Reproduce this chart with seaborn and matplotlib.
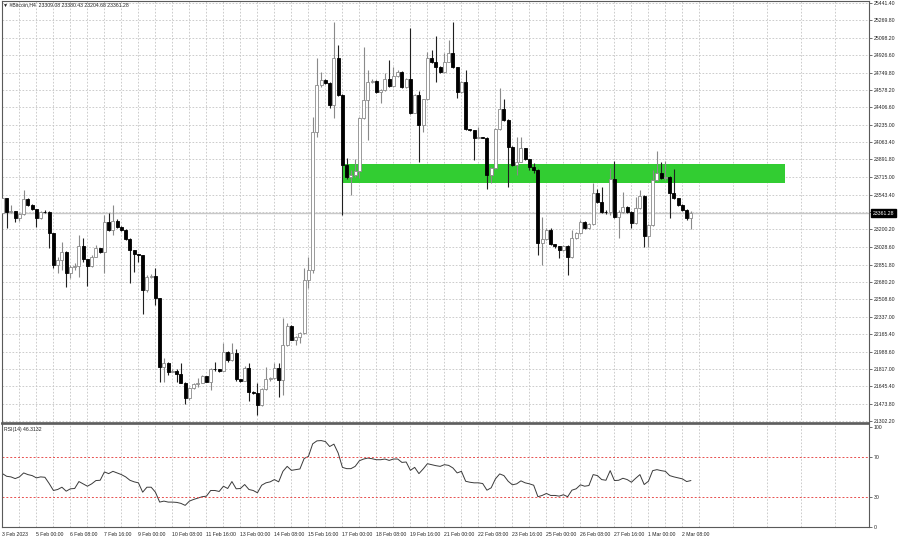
import numpy as np
import pandas as pd
import matplotlib
matplotlib.use("Agg")
import matplotlib.pyplot as plt
import matplotlib.transforms as mtransforms
import seaborn as sns

# H4 candles, 3 Feb 16:00 .. 2 Mar 16:00 (open = previous close)
first_open = 23359.0
close = [23508, 23376, 23380, 23310, 23350, 23498, 23442, 23399, 23310, 23376,
         23372, 23161, 22848, 22897, 22980, 22772, 22831, 22840, 23036, 22904,
         22841, 22930, 23013, 22980, 23277, 23194, 23286, 23227, 23194, 23102,
         22996, 22956, 22943, 22600, 22732, 22735, 22518, 21841, 21881, 21792,
         21800, 21765, 21683, 21528, 21627, 21669, 21680, 21749, 21693, 21818,
         21815, 21800, 21990, 21907, 21980, 21716, 21702, 21831, 21594, 21577,
         21462, 21620, 21716, 21725, 21825, 21709, 22056, 22244, 22105, 22138,
         22171, 22699, 22798, 24168, 24630, 24679, 24653, 24432, 24894, 24531,
         23838, 23722, 23738, 23781, 24300, 24481, 24663, 24670, 24564, 24575,
         24686, 24620, 24719, 24762, 24613, 24686, 24356, 24531, 24234, 24488,
         24894, 24861, 24811, 24762, 24861, 24950, 24804, 24564, 24663, 24191,
         24184, 24102, 24111, 24108, 23738, 23805, 24191, 24389, 24283, 24019,
         23838, 23871, 24003, 23894, 23821, 23790, 23062, 23102, 23194, 23055,
         23036, 22996, 23036, 22930, 23112, 23161, 23277, 23210, 23253, 23557,
         23475, 23376, 23370, 23696, 23326, 23376, 23425, 23376, 23267, 23409,
         23531, 23135, 23244, 23689, 23755, 23706, 23720, 23557, 23508, 23442,
         23392, 23309.08, 23361.28]
high = [23706, 23515, 23442, 23385, 23360, 23590, 23510, 23450, 23405, 23385,
        23395, 23380, 23165, 22923, 23079, 22985, 22850, 22870, 23145, 23112,
        22910, 22945, 23046, 23020, 23343, 23359, 23442, 23300, 23230, 23200,
        23110, 23000, 22960, 22945, 22745, 22755, 22815, 22525, 21924, 21890,
        21815, 21815, 21881, 21690, 21635, 21680, 21726, 21760, 21750, 21825,
        21891, 21820, 22079, 22000, 22079, 22013, 21720, 21845, 21874, 21600,
        21676, 21630, 21834, 21735, 21874, 21880, 22320, 22270, 22250, 22145,
        22180, 22815, 22930, 24316, 24894, 24762, 24690, 24660, 25257, 25025,
        24540, 23904, 23788, 23894, 24310, 25009, 24778, 24690, 24680, 24590,
        24745, 24877, 24811, 24780, 24770, 24700, 25190, 24540, 24570, 24495,
        24956, 24976, 25115, 24815, 24943, 25075, 25257, 24810, 24670, 24778,
        24195, 24185, 24217, 24115, 24115, 23815, 24200, 24597, 24491, 24290,
        24025, 24118, 24118, 24010, 23900, 23854, 23800, 23326, 23210, 23210,
        23060, 23040, 23045, 23045, 23194, 23170, 23290, 23280, 23265, 23660,
        23600, 23623, 23390, 23805, 23880, 23390, 23570, 23430, 23385, 23524,
        23590, 23540, 23250, 23788, 23976, 23870, 23880, 23730, 23795, 23515,
        23450, 23400, 23380.43]
low = [23227, 23211, 23359, 23277, 23280, 23340, 23430, 23390, 23227, 23300,
       23360, 23013, 22815, 22765, 22798, 22633, 22716, 22800, 22732, 22880,
       22640, 22830, 22925, 22965, 22765, 23180, 23145, 23215, 23185, 23090,
       22673, 22782, 22881, 22359, 22580, 22720, 22452, 21693, 21693, 21759,
       21790, 21693, 21675, 21471, 21515, 21620, 21643, 21675, 21685, 21610,
       21800, 21790, 21795, 21890, 21900, 21700, 21690, 21695, 21505, 21570,
       21363, 21452, 21610, 21700, 21720, 21538, 21565, 22050, 22100, 22056,
       22072, 22160, 22617, 22765, 24118, 24613, 24640, 24399, 24300, 24520,
       23343, 23700, 23541, 23722, 23705, 24290, 24085, 24650, 24555, 24448,
       24570, 24610, 24610, 24712, 24600, 24597, 24340, 24350, 23871, 24168,
       24480, 24850, 24663, 24750, 24750, 24855, 24795, 24498, 24555, 24180,
       24175, 23887, 24100, 24100, 23597, 23656, 23795, 24180, 24275, 23623,
       23830, 23738, 23865, 23885, 23788, 23760, 22947, 22848, 23095, 23045,
       23020, 22914, 22990, 22749, 22920, 23105, 23150, 23200, 23200, 23240,
       23460, 23360, 23350, 23345, 23310, 23112, 23360, 23365, 23210, 23250,
       23400, 23029, 23029, 23230, 23680, 23700, 23690, 23310, 23500, 23430,
       23380, 23290, 23204.68]
rsi = [53.3, 50.6, 50.0, 48.3, 50.0, 54.0, 52.3, 51.3, 49.0, 50.0,
       49.6, 43.3, 36.3, 37.3, 39.6, 35.6, 38.0, 38.3, 45.3, 43.0,
       40.6, 43.0, 46.3, 46.6, 55.0, 53.3, 55.6, 54.0, 52.3, 50.0,
       46.6, 45.0, 44.0, 34.6, 39.6, 39.6, 34.6, 24.6, 25.6, 24.6,
       24.6, 24.3, 23.3, 21.3, 25.6, 27.3, 28.6, 30.0, 30.6, 36.3,
       36.3, 35.3, 40.6, 38.3, 45.3, 38.0, 38.3, 42.3, 37.3, 36.3,
       34.0, 41.6, 44.0, 45.0, 47.3, 45.0, 55.6, 60.6, 56.6, 57.3,
       58.0, 68.6, 70.6, 83.3, 86.3, 86.6, 85.6, 80.6, 83.0, 74.0,
       59.6, 58.3, 58.3, 60.6, 66.3, 68.0, 69.0, 68.3, 67.3, 67.3,
       68.0, 66.6, 68.0, 68.0, 64.6, 65.0, 56.6, 59.6, 53.3, 58.0,
       63.3, 62.3, 61.3, 60.6, 62.3, 61.6, 59.0, 54.0, 55.6, 45.6,
       44.6, 44.0, 44.0, 43.3, 36.6, 39.0, 48.0, 53.0, 51.3, 45.6,
       42.0, 43.0, 46.0, 44.0, 43.0, 41.6, 30.0, 31.3, 33.3, 31.3,
       31.3, 30.6, 32.0, 30.0, 36.6, 38.0, 42.0, 40.6, 41.3, 52.3,
       51.3, 47.3, 46.6, 56.3, 46.3, 46.6, 48.6, 47.3, 44.6, 48.6,
       52.3, 42.3, 45.6, 56.3, 57.3, 56.3, 55.6, 51.3, 50.0, 49.0,
       48.0, 45.3, 46.31]

date_labels = ["3 Feb 2023", "5 Feb 00:00", "6 Feb 08:00", "7 Feb 16:00", "9 Feb 00:00",
               "10 Feb 08:00", "11 Feb 16:00", "13 Feb 00:00", "14 Feb 08:00", "15 Feb 16:00",
               "17 Feb 00:00", "18 Feb 08:00", "19 Feb 16:00", "21 Feb 00:00", "22 Feb 08:00",
               "23 Feb 16:00", "25 Feb 00:00", "26 Feb 08:00", "27 Feb 16:00", "1 Mar 00:00",
               "2 Mar 08:00"]
price_ticks = [25441.40, 25269.80, 25098.20, 24926.60, 24749.80, 24578.20, 24406.60,
               24235.00, 24063.40, 23891.80, 23715.00, 23543.40, 23371.80, 23200.20,
               23028.60, 22851.80, 22680.20, 22508.60, 22337.00, 22165.40, 21988.60,
               21817.00, 21645.40, 21473.80, 21302.20]
rsi_levels = [70, 30]
rsi_ticks = [100, 70, 30, 0]
zone_price = (23658, 23845)
zone_bars = (80.2, 184.1)
last_price = 23361.28
header = "#Bitcoin,H4  23309.08 23380.43 23204.68 23361.28"

sns.set_theme(style="white")
plt.rcParams["font.family"] = ["Liberation Sans", "DejaVu Sans"]
FS = 3.7

df = pd.DataFrame({"bar": np.arange(len(close)), "close": close, "high": high,
                   "low": low, "rsi": rsi})
df["open"] = [first_open] + close[:-1]
df["up"] = df["close"] >= df["open"]

W, H = 900, 539
fig = plt.figure(figsize=(W / 100, H / 100), dpi=100)
fig.patch.set_facecolor("white")


def box(x0, y0, x1, y1):
    return [x0 / W, 1 - y1 / H, (x1 - x0) / W, (y1 - y0) / H]


ax = fig.add_axes(box(2, 1, 869, 423))
ax2 = fig.add_axes(box(2, 424, 869, 527), sharex=ax)

xmax = 203.9
label_bars = np.arange(0, 8 * len(date_labels), 8)
grid_bars = np.arange(4, xmax, 8)
grid_kw = dict(color="#c4c4c4", lw=0.6, ls=(0, (2, 2)))

# main price panel
ax.set_xlim(-0.1, xmax)
ax.set_ylim(21283, 25461)
ax.set_xticks(label_bars)
ax.set_xticks(grid_bars, minor=True)
ax.set_yticks(price_ticks)
ax.set_yticklabels(["" if abs(p - 23371.80) < 0.01 else f"{p:.2f}" for p in price_ticks])
ax.yaxis.tick_right()
ax.grid(True, which="both", **grid_kw)
ax.tick_params(axis="x", which="both", length=0, labelbottom=False)
ax.tick_params(axis="y", length=2, width=0.6, color="#555555", labelsize=FS, pad=1.5,
               labelcolor="#222222")

ax.axhline(last_price, color="#c8c8c8", lw=1.0, zorder=1)
ax.add_patch(plt.Rectangle((zone_bars[0], zone_price[0]), zone_bars[1] - zone_bars[0],
                           zone_price[1] - zone_price[0], color="#32cd32", lw=0, zorder=1.5))

wick_col = np.where(df["up"], "#8a8a8a", "#202020")
body_fc = np.where(df["up"], "white", "black")
body_ec = np.where(df["up"], "#8a8a8a", "black")
ax.vlines(df["bar"], df["low"], df["high"], colors=wick_col, lw=0.8, zorder=2)
ax.bar(df["bar"], (df["close"] - df["open"]).abs(), bottom=df[["open", "close"]].min(axis=1),
       width=0.68, color=body_fc, edgecolor=body_ec, linewidth=0.6, zorder=3)

tr = mtransforms.blended_transform_factory(ax.transAxes, ax.transData)
ax.text(1.004, last_price, f"{last_price:.2f}", transform=tr, color="white", fontsize=FS,
        va="center", ha="left", zorder=5,
        bbox=dict(boxstyle="square,pad=0.3", fc="black", ec="black"))

# RSI panel
sns.lineplot(data=df, x="bar", y="rsi", ax=ax2, color="#3a3a3a", lw=0.7)
for lvl in rsi_levels:
    ax2.axhline(lvl, color="#e8504f", lw=0.7, ls=(0, (2, 2)))
ax2.set_ylim(-0.5, 103.3)
ax2.set_yticks(rsi_ticks)
ax2.set_yticklabels([str(t) for t in rsi_ticks])
ax2.yaxis.tick_right()
ax2.set_xticks(label_bars)
ax2.set_xticklabels(date_labels)
ax2.set_xticks(grid_bars, minor=True)
ax2.grid(True, axis="x", which="both", **grid_kw)
ax2.grid(False, axis="y")
ax2.set_xlabel("")
ax2.set_ylabel("")
ax2.tick_params(axis="x", which="major", length=2, width=0.6, color="#555555",
                labelsize=FS, pad=1.5, labelcolor="#222222")
ax2.tick_params(axis="x", which="minor", length=0)
ax2.tick_params(axis="y", length=2, width=0.6, color="#555555", labelsize=FS, pad=1.5,
                labelcolor="#222222")
for lab in ax2.get_xticklabels():
    lab.set_horizontalalignment("left")

for a in (ax, ax2):
    for s in a.spines.values():
        s.set_color("#5a5a5a")
        s.set_linewidth(0.8)
ax.spines["bottom"].set_linewidth(1.2)
ax2.spines["top"].set_linewidth(1.2)

fig.text(3 / W, 1 - 5 / H, "\u25bc " + header, fontsize=FS, va="center", ha="left",
         color="#222222")
fig.text(4 / W, 1 - 430 / H, "RSI(14) 46.3132", fontsize=FS, va="center", ha="left",
         color="#222222")

fig.savefig("out.png", dpi=100, facecolor="white")
